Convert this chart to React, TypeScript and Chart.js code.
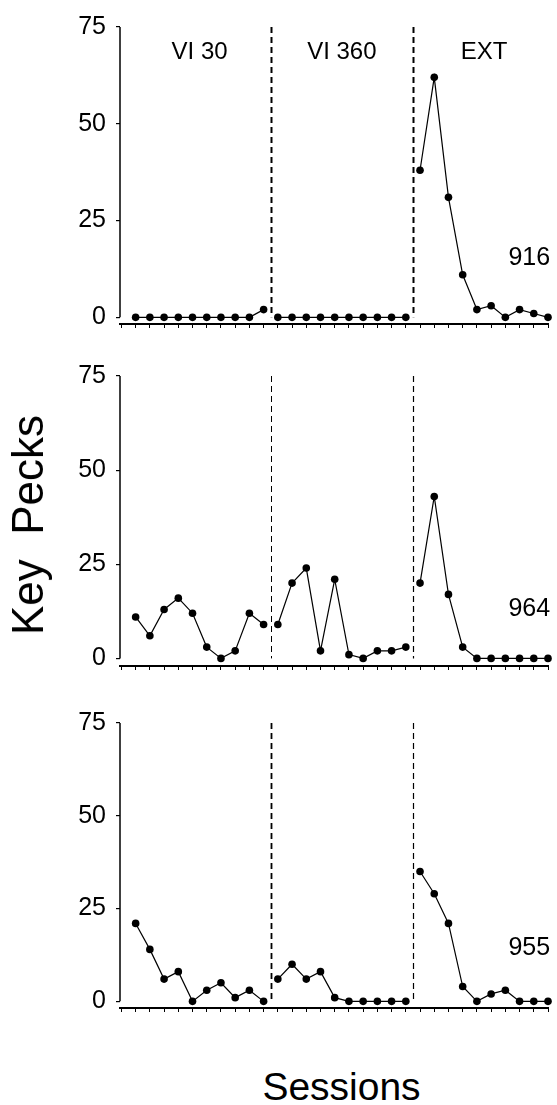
import React, { useEffect, useRef } from 'react';
import { Chart, registerables } from 'chart.js';

Chart.register(...registerables);

// ---- data ----
const phaseNames = ['VI 30', 'VI 360', 'EXT'];
const subjects = ['916', '964', '955'];
const yTickValues = [0, 25, 50, 75];
const phaseBoundaries = [10.5, 20.5];
const sessionsPerPhase = 10;
const totalSessions = 30;

const bird916VI30 = [0, 0, 0, 0, 0, 0, 0, 0, 0, 2];
const bird916VI360 = [0, 0, 0, 0, 0, 0, 0, 0, 0, 0];
const bird916EXT = [38, 62, 31, 11, 2, 3, 0, 2, 1, 0];

const bird964VI30 = [11, 6, 13, 16, 12, 3, 0, 2, 12, 9];
const bird964VI360 = [9, 20, 24, 2, 21, 1, 0, 2, 2, 3];
const bird964EXT = [20, 43, 17, 3, 0, 0, 0, 0, 0, 0];

const bird955VI30 = [21, 14, 6, 8, 0, 3, 5, 1, 3, 0];
const bird955VI360 = [6, 10, 6, 8, 1, 0, 0, 0, 0, 0];
const bird955EXT = [35, 29, 21, 4, 0, 2, 3, 0, 0, 0];

// ---- layout ----
const FONT = '"Liberation Sans", Arial, Helvetica, sans-serif';
const W = 557;

const panels = [
  { series: [bird916VI30, bird916VI360, bird916EXT], subject: subjects[0], top: 0, height: 349, padTop: 27, yMin: -1.72, labelY: 15.2, showPhases: true, dashWidths: [2, 2] },
  { series: [bird964VI30, bird964VI360, bird964EXT], subject: subjects[1], top: 349, height: 342, padTop: 27, yMin: -2.02, labelY: 13, showPhases: false, dashWidths: [1, 1.2] },
  { series: [bird955VI30, bird955VI360, bird955EXT], subject: subjects[2], top: 691, height: 342, padTop: 32, yMin: -1.79, labelY: 14.3, showPhases: false, dashWidths: [1.8, 1.2] },
];

const overlayPlugin = {
  id: 'overlay',
  beforeDatasetsDraw(chart: any, _args: any, opts: any) {
    const { ctx, chartArea } = chart;
    const x = chart.scales.x;
    const y = chart.scales.y;
    ctx.save();
    // y axis line from 0 to 75
    ctx.strokeStyle = '#000';
    ctx.lineWidth = 1.5;
    ctx.beginPath();
    ctx.moveTo(chartArea.left, y.getPixelForValue(0));
    ctx.lineTo(chartArea.left, y.getPixelForValue(75));
    ctx.stroke();
    // phase dashed lines
    phaseBoundaries.forEach((b, i) => {
      ctx.setLineDash([6, 4]);
      ctx.lineWidth = opts.dashWidths[i];
      const px = Math.round(x.getPixelForValue(b)) + 0.5;
      ctx.beginPath();
      ctx.moveTo(px, y.getPixelForValue(75));
      ctx.lineTo(px, y.getPixelForValue(0));
      ctx.stroke();
    });
    ctx.setLineDash([]);
    ctx.fillStyle = '#000';
    if (opts.showPhases) {
      ctx.font = `24px ${FONT}`;
      ctx.textAlign = 'center';
      ctx.textBaseline = 'middle';
      phaseNames.forEach((name, i) => {
        ctx.fillText(name, x.getPixelForValue(i * sessionsPerPhase + 5.5), y.getPixelForValue(68.4));
      });
    }
    ctx.font = `25px ${FONT}`;
    ctx.textAlign = 'right';
    ctx.textBaseline = 'middle';
    ctx.fillText(opts.subject, x.getPixelForValue(30.15), y.getPixelForValue(opts.labelY));
    ctx.restore();
  },
};

function Panel({ cfg }: { cfg: any }) {
  const ref = useRef<HTMLCanvasElement>(null);
  useEffect(() => {
    if (!ref.current) return;
    const datasets = cfg.series.map((vals: number[], j: number) => ({
      data: vals.map((v, i) => ({ x: j * sessionsPerPhase + i + 1, y: v })),
      borderColor: '#000',
      borderWidth: 1.2,
      pointRadius: 3.8,
      pointHoverRadius: 3.8,
      pointBackgroundColor: '#000',
      pointBorderWidth: 0,
      tension: 0,
      clip: false,
      fill: false,
    }));
    const chart = new Chart(ref.current, {
      type: 'line',
      data: { datasets },
      plugins: [overlayPlugin],
      options: {
        animation: false,
        responsive: false,
        devicePixelRatio: 1,
        events: [],
        layout: { padding: { top: cfg.padTop, right: W - 548, bottom: 0, left: 0 } },
        plugins: {
          legend: { display: false },
          tooltip: { enabled: false },
          overlay: { dashWidths: cfg.dashWidths, showPhases: cfg.showPhases, subject: cfg.subject, labelY: cfg.labelY },
        } as any,
        scales: {
          x: {
            type: 'linear',
            min: -0.1,
            max: totalSessions,
            afterBuildTicks: (scale: any) => {
              scale.ticks = Array.from({ length: totalSessions + 1 }, (_, i) => ({ value: i }));
            },
            afterFit: (scale: any) => {
              scale.height = 10;
            },
            ticks: { autoSkip: false, maxRotation: 0, callback: () => '', padding: 0, font: { size: 1 } },
            grid: { drawOnChartArea: false, tickLength: 4, color: '#000', lineWidth: 1 },
            border: { display: true, color: '#000', width: 2 },
          },
          y: {
            type: 'linear',
            min: cfg.yMin,
            max: 75,
            afterBuildTicks: (scale: any) => {
              scale.ticks = yTickValues.map((v) => ({ value: v }));
            },
            afterFit: (scale: any) => {
              scale.width = 120;
            },
            ticks: { color: '#000', padding: 10, font: { family: FONT, size: 25 } },
            grid: { drawOnChartArea: false, tickLength: 4, color: '#000', lineWidth: 1.2 },
            border: { display: false },
          },
        },
      } as any,
    });
    return () => chart.destroy();
  }, [cfg]);
  return (
    <canvas
      ref={ref}
      width={W}
      height={cfg.height}
      style={{ position: 'absolute', left: 0, top: cfg.top, width: W, height: cfg.height }}
    />
  );
}

export default function App() {
  return (
    <div style={{ position: 'absolute', left: 0, top: 0, width: W, height: 1105, background: '#fff', overflow: 'hidden' }}>
      {panels.map((p, i) => (
        <Panel key={i} cfg={p} />
      ))}
      <div
        style={{
          position: 'absolute',
          left: 28,
          top: 524.5,
          transform: 'translate(-50%, -50%) rotate(-90deg)',
          fontFamily: FONT,
          fontSize: 44,
          lineHeight: '44px',
          whiteSpace: 'pre',
          color: '#000',
        }}
      >
        {'Key  Pecks'}
      </div>
      <div
        style={{
          position: 'absolute',
          left: 341.5,
          top: 1067,
          transform: 'translateX(-50%)',
          fontFamily: FONT,
          fontSize: 39,
          lineHeight: '39px',
          whiteSpace: 'pre',
          color: '#000',
        }}
      >
        Sessions
      </div>
    </div>
  );
}
